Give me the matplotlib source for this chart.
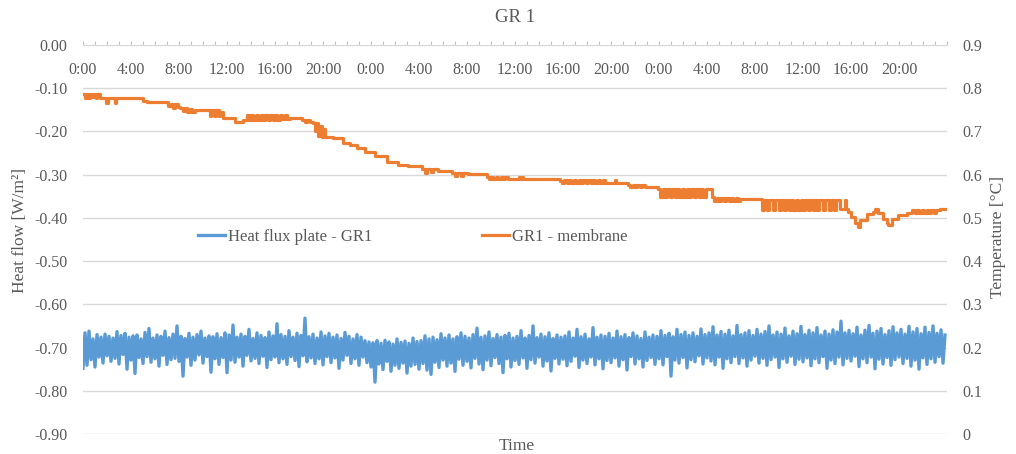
import matplotlib
matplotlib.use('Agg')
import matplotlib.pyplot as plt
import numpy as np
from matplotlib.ticker import MultipleLocator, FixedLocator, FuncFormatter

plt.rcParams['font.family'] = ['Liberation Serif', 'DejaVu Serif']
plt.rcParams['axes.unicode_minus'] = False

# ---- data ----
title = 'GR 1'
day_ticks = ['0:00', '4:00', '8:00', '12:00', '16:00', '20:00']
n_days = 3
sample_step_h = 1 / 6  # heat flux logged every 10 min

# heat flux plate, W/m2 x 1000, one row = 4 hours
heat_flux = [
    -748, -666, -741, -662, -728, -680, -745, -670, -722, -676, -736, -669, -719, -674, -732, -678, -725, -663, -738, -672, -716, -667, -750, -676,
    -729, -673, -760, -671, -723, -680, -737, -665, -721, -656, -734, -678, -726, -671, -743, -674, -718, -662, -739, -677, -728, -669, -725, -650,
    -732, -674, -766, -679, -722, -667, -741, -676, -729, -670, -717, -662, -736, -678, -721, -673, -757, -675, -726, -668, -739, -677, -723, -666,
    -758, -671, -729, -648, -734, -676, -722, -669, -743, -674, -718, -658, -731, -679, -725, -666, -737, -672, -720, -677, -746, -664, -728, -673,
    -722, -645, -735, -670, -726, -674, -739, -661, -721, -676, -730, -667, -744, -672, -719, -632, -733, -675, -724, -669, -737, -678, -726, -664,
    -740, -673, -721, -667, -735, -676, -724, -671, -748, -679, -729, -665, -718, -674, -737, -680, -726, -670, -741, -676, -722, -684, -735, -687,
    -745, -689, -780, -684, -738, -690, -751, -683, -732, -687, -755, -692, -741, -680, -748, -688, -736, -685, -759, -690, -743, -678, -739, -686,
    -750, -684, -737, -673, -752, -680, -762, -676, -734, -682, -746, -668, -729, -678, -743, -671, -736, -680, -755, -675, -727, -666, -741, -674,
    -732, -678, -747, -670, -725, -655, -738, -676, -751, -673, -729, -664, -742, -679, -723, -670, -737, -676, -758, -672, -726, -667, -745, -678,
    -730, -674, -739, -661, -724, -678, -748, -672, -728, -650, -736, -677, -722, -669, -743, -675, -731, -666, -754, -679, -725, -671, -738, -676,
    -727, -673, -742, -664, -732, -678, -720, -658, -746, -675, -729, -669, -737, -680, -722, -654, -740, -676, -726, -671, -749, -674, -730, -667,
    -735, -678, -724, -662, -743, -675, -728, -670, -752, -677, -721, -666, -738, -673, -726, -679, -745, -664, -730, -676, -723, -671, -739, -674,
    -726, -661, -740, -672, -721, -667, -766, -675, -729, -658, -736, -670, -723, -664, -747, -672, -728, -666, -733, -674, -719, -657, -738, -670,
    -724, -666, -731, -652, -740, -671, -722, -663, -748, -669, -726, -660, -735, -673, -721, -649, -737, -670, -724, -666, -743, -661, -729, -672,
    -720, -658, -736, -669, -725, -663, -741, -650, -728, -671, -722, -664, -746, -669, -726, -655, -734, -673, -720, -662, -739, -668, -727, -651,
    -733, -670, -724, -660, -742, -666, -726, -654, -735, -671, -721, -662, -748, -669, -729, -659, -737, -664, -722, -639, -740, -666, -725, -660,
    -731, -668, -720, -653, -744, -671, -726, -660, -735, -649, -722, -667, -749, -662, -727, -656, -738, -670, -723, -661, -741, -652, -728, -666,
    -722, -658, -737, -669, -725, -651, -743, -664, -729, -656, -750, -668, -724, -653, -739, -665, -726, -650, -734, -667, -721, -659, -736, -671,
]

# membrane temperature, (hour, degC), value held until next entry
temp_day1 = [
    (0.00, 0.787), (0.15, 0.778), (0.30, 0.787), (0.45, 0.778), (0.60, 0.787), (0.75, 0.779),
    (0.90, 0.787), (1.05, 0.778), (1.20, 0.787), (1.42, 0.777), (1.95, 0.766), (2.05, 0.777),
    (2.65, 0.766), (2.75, 0.777), (5.00, 0.771), (5.30, 0.768), (7.08, 0.759), (7.30, 0.763),
    (7.50, 0.755), (7.70, 0.763), (7.90, 0.756), (8.08, 0.754), (8.30, 0.747), (8.50, 0.754),
    (8.70, 0.746), (8.90, 0.753), (9.10, 0.746), (9.33, 0.750), (10.60, 0.736), (10.70, 0.750),
    (10.95, 0.736), (11.05, 0.750), (11.30, 0.736), (11.40, 0.745), (11.70, 0.731), (12.70, 0.722),
    (13.30, 0.726), (13.67, 0.737), (13.80, 0.727), (14.00, 0.737), (14.20, 0.727), (14.40, 0.737),
    (14.60, 0.727), (14.80, 0.737), (15.00, 0.727), (15.20, 0.737), (15.40, 0.727), (15.60, 0.737),
    (15.80, 0.727), (16.00, 0.737), (16.20, 0.727), (16.40, 0.737), (16.60, 0.728), (16.80, 0.737),
    (17.00, 0.728), (17.25, 0.731), (18.25, 0.726), (18.50, 0.721), (18.70, 0.726), (18.90, 0.721),
    (19.17, 0.719), (19.30, 0.700), (19.45, 0.719), (19.60, 0.690), (19.75, 0.712), (19.90, 0.688),
    (20.05, 0.705), (20.20, 0.687), (20.42, 0.687), (20.83, 0.685), (21.67, 0.673), (22.25, 0.669),
    (22.83, 0.661), (23.50, 0.653),
]
temp_day2 = [
    (24.33, 0.643), (25.33, 0.630), (26.25, 0.622), (27.08, 0.620), (28.25, 0.612), (28.50, 0.605),
    (28.65, 0.612), (29.00, 0.606), (29.15, 0.612), (29.58, 0.609), (30.75, 0.603), (31.00, 0.597),
    (31.15, 0.603), (31.50, 0.598), (31.65, 0.603), (32.08, 0.601), (33.67, 0.594), (33.85, 0.589),
    (34.00, 0.594), (34.20, 0.589), (34.40, 0.594), (34.60, 0.589), (34.80, 0.594), (35.00, 0.590),
    (35.20, 0.594), (35.40, 0.590), (36.17, 0.590), (36.30, 0.595), (36.40, 0.590), (36.60, 0.595),
    (36.70, 0.590), (39.75, 0.586), (39.90, 0.580), (40.10, 0.587), (40.30, 0.580), (40.50, 0.587),
    (40.70, 0.580), (40.90, 0.587), (41.10, 0.580), (41.30, 0.587), (41.50, 0.580), (41.70, 0.587),
    (41.90, 0.580), (42.10, 0.587), (42.30, 0.580), (42.50, 0.587), (42.70, 0.581), (42.90, 0.587),
    (43.10, 0.581), (43.30, 0.587), (43.50, 0.581), (44.17, 0.581), (44.30, 0.587), (44.40, 0.581),
    (45.42, 0.576), (45.60, 0.571), (45.80, 0.576), (46.00, 0.571), (46.20, 0.576), (46.40, 0.571),
    (46.60, 0.576), (46.80, 0.572), (47.00, 0.571),
]
temp_day3 = [
    (47.92, 0.566), (48.10, 0.549), (48.30, 0.566), (48.50, 0.548), (48.70, 0.566), (48.90, 0.549),
    (49.10, 0.566), (49.30, 0.549), (49.50, 0.566), (49.70, 0.548), (49.90, 0.566), (50.10, 0.548),
    (50.30, 0.566), (50.50, 0.548), (50.70, 0.566), (50.90, 0.548), (51.10, 0.566), (51.30, 0.548),
    (51.50, 0.566), (51.70, 0.549), (51.90, 0.566), (52.00, 0.567), (52.40, 0.548), (52.60, 0.539),
    (52.80, 0.547), (53.00, 0.539), (53.20, 0.547), (53.40, 0.539), (53.60, 0.547), (53.80, 0.539),
    (54.00, 0.547), (54.20, 0.539), (54.40, 0.547), (54.60, 0.540), (54.75, 0.543), (56.58, 0.543),
    (56.60, 0.519), (56.75, 0.542), (57.00, 0.519), (57.15, 0.542), (57.50, 0.519), (57.65, 0.542),
    (58.00, 0.519), (58.15, 0.542), (58.40, 0.519), (58.60, 0.542), (58.80, 0.519), (59.00, 0.542),
    (59.20, 0.519), (59.40, 0.542), (59.60, 0.519), (59.80, 0.542), (60.00, 0.519), (60.20, 0.542),
    (60.40, 0.519), (60.60, 0.542), (60.80, 0.519), (61.00, 0.542), (61.20, 0.519), (61.35, 0.542),
    (61.70, 0.519), (61.85, 0.542), (62.20, 0.519), (62.35, 0.542), (62.60, 0.519), (62.75, 0.542),
    (63.08, 0.520), (63.50, 0.541), (63.60, 0.520), (63.75, 0.513), (64.00, 0.502), (64.33, 0.488),
    (64.55, 0.480), (64.75, 0.495), (65.33, 0.509), (65.83, 0.513), (66.00, 0.520), (66.25, 0.511),
    (66.67, 0.497), (67.00, 0.488), (67.08, 0.483), (67.42, 0.497), (67.92, 0.506), (68.67, 0.511),
    (69.08, 0.519), (69.30, 0.512), (69.50, 0.519), (69.70, 0.512), (69.90, 0.519), (70.10, 0.512),
    (70.30, 0.519), (70.50, 0.512), (70.70, 0.519), (70.90, 0.512), (71.10, 0.519), (71.42, 0.520),
    (72.00, 0.520),
]

flux_label = 'Heat flux plate - GR1'
temp_label = 'GR1 - membrane'

# ---- styling ----
text_gray = '#595959'
grid_gray = '#D9D9D9'
blue = '#5B9BD5'
orange = '#ED7D31'

flux = np.array(heat_flux) / 1000
flux_t = np.arange(len(flux)) * sample_step_h
temp = np.array(temp_day1 + temp_day2 + temp_day3)

fig = plt.figure(figsize=(10.16, 4.54), dpi=100)
ax = fig.add_axes([83 / 1016, 1 - 434 / 454, 864 / 1016, 389 / 454])
ax2 = ax.twinx()

l1, = ax.plot(flux_t, flux, color=blue, lw=2.4)
l2, = ax2.step(temp[:, 0], temp[:, 1], where='post', color=orange, lw=2.3)

ax.set_xlim(0, 24 * n_days)
ax.set_ylim(-0.9, 0)
ax2.set_ylim(0, 0.9)

for a in (ax, ax2):
    for s in a.spines.values():
        s.set_visible(False)

ax.yaxis.set_major_locator(MultipleLocator(0.1))
ax.yaxis.set_major_formatter(FuncFormatter(lambda v, p: f'{v:.2f}'.replace('-0.00', '0.00')))
ax2.yaxis.set_major_locator(MultipleLocator(0.1))
ax2.yaxis.set_major_formatter(FuncFormatter(lambda v, p: '0' if abs(v) < 1e-9 else f'{v:.1f}'))
ax.grid(axis='y', color=grid_gray, lw=1.0)
ax.set_axisbelow(True)

ax.tick_params(axis='y', length=0, pad=11, labelsize=11.5, labelcolor=text_gray)
ax2.tick_params(axis='y', length=0, pad=11, labelsize=11.5, labelcolor=text_gray)

# category axis sits at the top (crosses at 0), labels below the line
ax.xaxis.set_major_locator(FixedLocator(np.arange(0, 24 * n_days, 4)))
ax.xaxis.set_minor_locator(MultipleLocator(1))
ax.set_xticklabels(day_ticks * n_days)
ax.tick_params(axis='x', which='both', bottom=False, labelbottom=False, top=True, labeltop=True,
               direction='out', length=3, width=0.8, color='#BFBFBF')
ax.tick_params(axis='x', which='major', pad=-26.5, labelsize=11.5, labelcolor=text_gray)

ax.set_ylabel('Heat flow [W/m²]', fontsize=12.5, color=text_gray)
ax.yaxis.set_label_coords(-0.064, 0.524)
ax2.set_ylabel('Temperature [°C]', fontsize=12.5, color=text_gray, rotation=90)
ax2.yaxis.set_label_coords(1.050, 0.506)

fig.text(515 / 1016, 1 - 18 / 454, title, ha='center', va='center', fontsize=13.5, color=text_gray)
fig.text(517 / 1016, 1 - 446 / 454, 'Time', ha='center', va='center', fontsize=12.5, color=text_gray)

ax2.legend([l1, l2], [flux_label, temp_label], ncol=2, loc='center left',
           bbox_to_anchor=((198 - 83) / 864, (434 - 237) / 389), frameon=False,
           fontsize=12, labelcolor=text_gray, handlelength=1.6, handletextpad=0.18,
           columnspacing=6.6, borderpad=0, borderaxespad=0)

fig.savefig('out.png', dpi=100)
